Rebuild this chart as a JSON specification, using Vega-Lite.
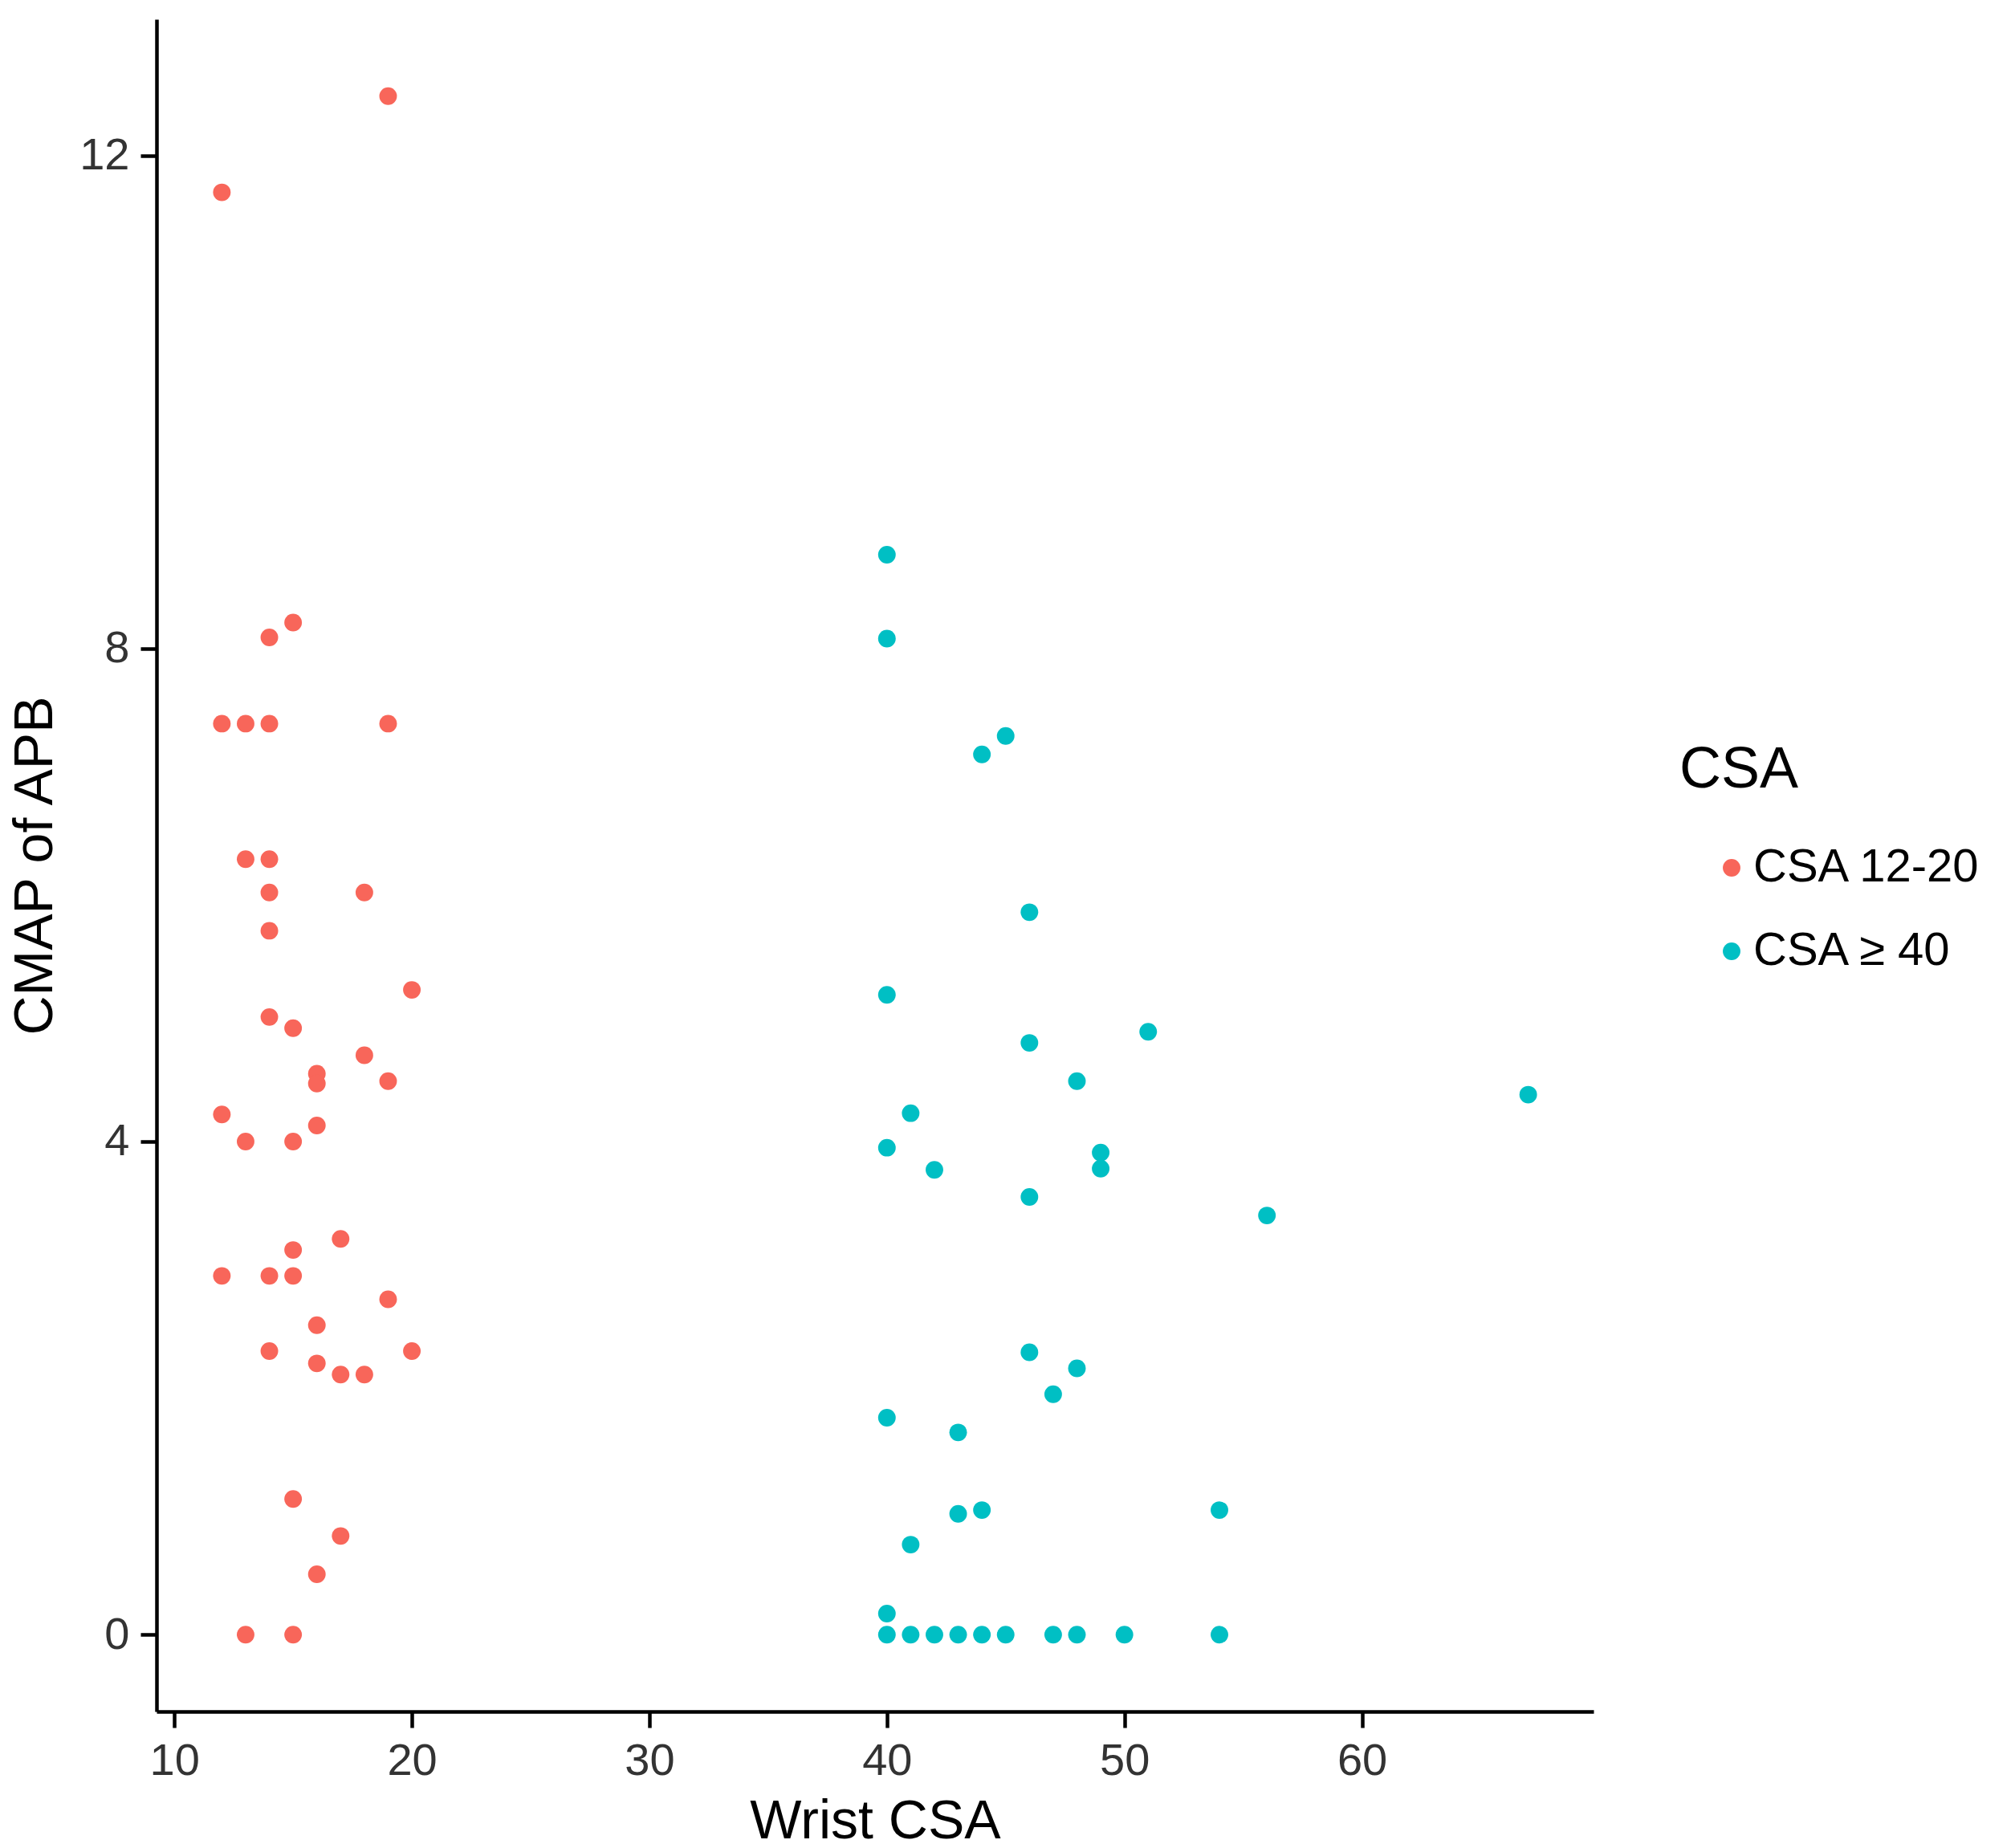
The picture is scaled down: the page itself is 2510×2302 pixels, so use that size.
{
  "$schema": "https://vega.github.io/schema/vega-lite/v6.json",
  "width": 1790,
  "height": 2108,
  "autosize": {"type": "none"},
  "padding": {"left": 195, "top": 24, "right": 525, "bottom": 170},
  "background": "white",
  "config": {
    "font": "Liberation Sans",
    "view": {"stroke": null},
    "axis": {"grid": false, "domainColor": "black", "domainWidth": 4.5, "tickColor": "black", "tickWidth": 4.5, "tickSize": 20, "labelFontSize": 56, "labelColor": "#333333", "labelPadding": 14, "titleFontSize": 68, "titleFontWeight": "normal", "titleColor": "black"}
  },
  "data": {"values": [
    {"wrist": 19, "cmap": 12.48, "group": "CSA 12-20"},
    {"wrist": 12, "cmap": 11.70, "group": "CSA 12-20"},
    {"wrist": 15, "cmap": 8.21, "group": "CSA 12-20"},
    {"wrist": 14, "cmap": 8.09, "group": "CSA 12-20"},
    {"wrist": 12, "cmap": 7.39, "group": "CSA 12-20"},
    {"wrist": 13, "cmap": 7.39, "group": "CSA 12-20"},
    {"wrist": 14, "cmap": 7.39, "group": "CSA 12-20"},
    {"wrist": 19, "cmap": 7.39, "group": "CSA 12-20"},
    {"wrist": 13, "cmap": 6.29, "group": "CSA 12-20"},
    {"wrist": 14, "cmap": 6.29, "group": "CSA 12-20"},
    {"wrist": 14, "cmap": 6.02, "group": "CSA 12-20"},
    {"wrist": 18, "cmap": 6.02, "group": "CSA 12-20"},
    {"wrist": 14, "cmap": 5.71, "group": "CSA 12-20"},
    {"wrist": 20, "cmap": 5.23, "group": "CSA 12-20"},
    {"wrist": 14, "cmap": 5.01, "group": "CSA 12-20"},
    {"wrist": 15, "cmap": 4.92, "group": "CSA 12-20"},
    {"wrist": 18, "cmap": 4.70, "group": "CSA 12-20"},
    {"wrist": 16, "cmap": 4.55, "group": "CSA 12-20"},
    {"wrist": 16, "cmap": 4.47, "group": "CSA 12-20"},
    {"wrist": 19, "cmap": 4.49, "group": "CSA 12-20"},
    {"wrist": 12, "cmap": 4.22, "group": "CSA 12-20"},
    {"wrist": 16, "cmap": 4.13, "group": "CSA 12-20"},
    {"wrist": 13, "cmap": 4.00, "group": "CSA 12-20"},
    {"wrist": 15, "cmap": 4.00, "group": "CSA 12-20"},
    {"wrist": 17, "cmap": 3.21, "group": "CSA 12-20"},
    {"wrist": 15, "cmap": 3.12, "group": "CSA 12-20"},
    {"wrist": 12, "cmap": 2.91, "group": "CSA 12-20"},
    {"wrist": 14, "cmap": 2.91, "group": "CSA 12-20"},
    {"wrist": 15, "cmap": 2.91, "group": "CSA 12-20"},
    {"wrist": 19, "cmap": 2.72, "group": "CSA 12-20"},
    {"wrist": 16, "cmap": 2.51, "group": "CSA 12-20"},
    {"wrist": 14, "cmap": 2.30, "group": "CSA 12-20"},
    {"wrist": 20, "cmap": 2.30, "group": "CSA 12-20"},
    {"wrist": 16, "cmap": 2.20, "group": "CSA 12-20"},
    {"wrist": 17, "cmap": 2.11, "group": "CSA 12-20"},
    {"wrist": 18, "cmap": 2.11, "group": "CSA 12-20"},
    {"wrist": 15, "cmap": 1.10, "group": "CSA 12-20"},
    {"wrist": 17, "cmap": 0.80, "group": "CSA 12-20"},
    {"wrist": 16, "cmap": 0.49, "group": "CSA 12-20"},
    {"wrist": 13, "cmap": 0, "group": "CSA 12-20"},
    {"wrist": 15, "cmap": 0, "group": "CSA 12-20"},
    {"wrist": 40, "cmap": 8.76, "group": "CSA ≥ 40"},
    {"wrist": 40, "cmap": 8.08, "group": "CSA ≥ 40"},
    {"wrist": 44, "cmap": 7.14, "group": "CSA ≥ 40"},
    {"wrist": 45, "cmap": 7.29, "group": "CSA ≥ 40"},
    {"wrist": 46, "cmap": 5.86, "group": "CSA ≥ 40"},
    {"wrist": 40, "cmap": 5.19, "group": "CSA ≥ 40"},
    {"wrist": 46, "cmap": 4.80, "group": "CSA ≥ 40"},
    {"wrist": 51, "cmap": 4.89, "group": "CSA ≥ 40"},
    {"wrist": 48, "cmap": 4.49, "group": "CSA ≥ 40"},
    {"wrist": 67, "cmap": 4.38, "group": "CSA ≥ 40"},
    {"wrist": 41, "cmap": 4.23, "group": "CSA ≥ 40"},
    {"wrist": 40, "cmap": 3.95, "group": "CSA ≥ 40"},
    {"wrist": 42, "cmap": 3.77, "group": "CSA ≥ 40"},
    {"wrist": 49, "cmap": 3.91, "group": "CSA ≥ 40"},
    {"wrist": 49, "cmap": 3.78, "group": "CSA ≥ 40"},
    {"wrist": 46, "cmap": 3.55, "group": "CSA ≥ 40"},
    {"wrist": 56, "cmap": 3.40, "group": "CSA ≥ 40"},
    {"wrist": 46, "cmap": 2.29, "group": "CSA ≥ 40"},
    {"wrist": 48, "cmap": 2.16, "group": "CSA ≥ 40"},
    {"wrist": 47, "cmap": 1.95, "group": "CSA ≥ 40"},
    {"wrist": 40, "cmap": 1.76, "group": "CSA ≥ 40"},
    {"wrist": 43, "cmap": 1.64, "group": "CSA ≥ 40"},
    {"wrist": 43, "cmap": 0.98, "group": "CSA ≥ 40"},
    {"wrist": 44, "cmap": 1.01, "group": "CSA ≥ 40"},
    {"wrist": 54, "cmap": 1.01, "group": "CSA ≥ 40"},
    {"wrist": 41, "cmap": 0.73, "group": "CSA ≥ 40"},
    {"wrist": 40, "cmap": 0.17, "group": "CSA ≥ 40"},
    {"wrist": 40, "cmap": 0, "group": "CSA ≥ 40"},
    {"wrist": 41, "cmap": 0, "group": "CSA ≥ 40"},
    {"wrist": 42, "cmap": 0, "group": "CSA ≥ 40"},
    {"wrist": 43, "cmap": 0, "group": "CSA ≥ 40"},
    {"wrist": 44, "cmap": 0, "group": "CSA ≥ 40"},
    {"wrist": 45, "cmap": 0, "group": "CSA ≥ 40"},
    {"wrist": 47, "cmap": 0, "group": "CSA ≥ 40"},
    {"wrist": 48, "cmap": 0, "group": "CSA ≥ 40"},
    {"wrist": 50, "cmap": 0, "group": "CSA ≥ 40"},
    {"wrist": 54, "cmap": 0, "group": "CSA ≥ 40"}
  ]},
  "mark": {"type": "point", "filled": true, "shape": "circle", "size": 480, "opacity": 1, "strokeWidth": 0},
  "encoding": {
    "x": {"field": "wrist", "type": "quantitative", "title": "Wrist CSA",
      "scale": {"domain": [9.25, 69.75], "nice": false, "zero": false},
      "axis": {"values": [10, 20, 30, 40, 50, 60], "titlePadding": 14}},
    "y": {"field": "cmap", "type": "quantitative", "title": "CMAP of APB",
      "scale": {"domain": [-0.624, 13.104], "nice": false, "zero": false},
      "axis": {"values": [0, 4, 8, 12], "titlePadding": 20}},
    "color": {"field": "group", "type": "nominal", "title": "CSA",
      "scale": {"domain": ["CSA 12-20", "CSA ≥ 40"], "range": ["#F8665A", "#00BFC4"]},
      "legend": {"orient": "none", "legendX": 1897, "legendY": 900, "titleFontSize": 72, "titleFontWeight": "normal", "titleColor": "black", "titlePadding": 56, "labelFontSize": 58, "labelColor": "black", "labelLimit": 0, "symbolSize": 480, "symbolType": "circle", "symbolStrokeWidth": 0, "symbolOffset": 36, "labelOffset": -2, "rowPadding": 46}}
  }
}
